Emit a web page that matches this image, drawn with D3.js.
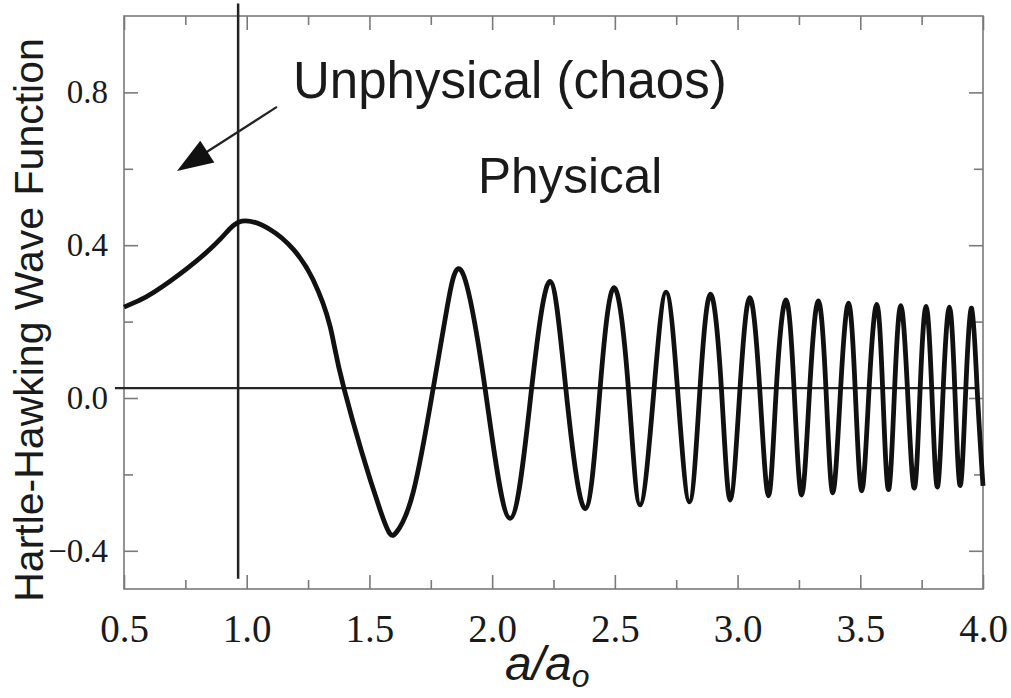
<!DOCTYPE html>
<html>
<head>
<meta charset="utf-8">
<script src="https://cdn.jsdelivr.net/npm/d3@7"></script>
<style>
  html, body { margin: 0; padding: 0; background: #fff; }
  svg { display: block; }
</style>
</head>
<body>
<div id="chart"></div>
<script>
// scale factor a/a0 (extrema, zero crossings and a few shoulder points)
const scaleFactor = [
  0.50, 0.56, 0.62, 0.755, 0.891, 0.98, 1.095, 1.19, 1.27, 1.34, 1.396,
  1.543, 1.608, 1.679, 1.76, 1.815, 1.876,
  1.971, 2.073, 2.161, 2.236, 2.30, 2.379, 2.44, 2.497, 2.555, 2.603,
  2.66, 2.709, 2.755, 2.804, 2.847, 2.89, 2.934, 2.97, 3.01, 3.05,
  3.09, 3.126, 3.158, 3.197, 3.23, 3.261, 3.294, 3.329, 3.36, 3.388,
  3.42, 3.452, 3.479, 3.506, 3.536, 3.567, 3.591, 3.615, 3.64, 3.665,
  3.692, 3.72, 3.744, 3.768, 3.791, 3.814, 3.838, 3.863, 3.885, 3.907,
  3.93, 3.954, 3.976, 4.0
];

// Hartle-Hawking wave function at those points
const waveFunction = [
  0.238, 0.255, 0.276, 0.338, 0.415, 0.463, 0.441, 0.389, 0.310, 0.187, 0.026,
  -0.292, -0.353, -0.245, 0.026, 0.231, 0.332,
  0.026, -0.315, 0.026, 0.305, 0.026, -0.290, 0.026, 0.289, 0.026, -0.280,
  0.026, 0.277, 0.026, -0.272, 0.026, 0.272, 0.026, -0.267, 0.026, 0.263,
  0.026, -0.256, 0.026, 0.257, 0.026, -0.254, 0.026, 0.254, 0.026, -0.248,
  0.026, 0.248, 0.026, -0.243, 0.026, 0.245, 0.026, -0.240, 0.026, 0.242,
  0.026, -0.236, 0.026, 0.240, 0.026, -0.233, 0.026, 0.238, 0.026, -0.229,
  0.026, 0.235, 0.026, -0.230
];

const xMajorTicks = [0.5, 1.0, 1.5, 2.0, 2.5, 3.0, 3.5, 4.0];
const xMinorTicks = [0.75, 1.25, 1.75, 2.25, 2.75, 3.25, 3.75];
const yMajorTicks = [0.8, 0.4, 0.0, -0.4];
const yMinorTicks = [0.6, 0.2, -0.2];

// reference lines: horizontal baseline and the boundary at a ~ a0
const baselineValue = 0.026;
const boundaryValue = 0.965;

const width = 1011;
const height = 698;
const margin = { top: 16, right: 28, bottom: 109, left: 124 };

const svg = d3.select("#chart")
  .append("svg")
  .attr("width", width)
  .attr("height", height);

const x = d3.scaleLinear()
  .domain([0.5, 4.0])
  .range([margin.left, width - margin.right]);

const y = d3.scaleLinear()
  .domain([-0.5, 1.0])
  .range([height - margin.bottom, margin.top]);

const frameColor = "#7a7a7a";
const serif = "'Liberation Serif', 'Times New Roman', serif";
const sans = "'Liberation Sans', Arial, Helvetica, sans-serif";

// axes with inward ticks, no domain paths (frame drawn separately)
function styleAxis(g) {
  g.select(".domain").remove();
  g.selectAll(".tick line").attr("stroke", frameColor).attr("stroke-width", 1.6);
}

const tickLabel = (d) => (d < 0 ? "\u2212" : "") + Math.abs(d).toFixed(1);

svg.append("g")
  .attr("transform", `translate(0,${y(-0.5)})`)
  .call(d3.axisBottom(x).tickValues(xMajorTicks).tickSizeInner(-14).tickSizeOuter(0)
    .tickPadding(25).tickFormat(tickLabel))
  .call(styleAxis)
  .call((g) => g.selectAll(".tick text")
    .attr("font-family", serif)
    .attr("font-size", 39)
    .attr("fill", "#1a1a1a"));

svg.append("g")
  .attr("transform", `translate(0,${y(-0.5)})`)
  .call(d3.axisBottom(x).tickValues(xMinorTicks).tickSizeInner(-9).tickSizeOuter(0).tickFormat(""))
  .call(styleAxis);

svg.append("g")
  .attr("transform", `translate(0,${y(1.0)})`)
  .call(d3.axisTop(x).tickValues(xMajorTicks).tickSizeInner(-14).tickSizeOuter(0).tickFormat(""))
  .call(styleAxis);

svg.append("g")
  .attr("transform", `translate(0,${y(1.0)})`)
  .call(d3.axisTop(x).tickValues(xMinorTicks).tickSizeInner(-9).tickSizeOuter(0).tickFormat(""))
  .call(styleAxis);

svg.append("g")
  .attr("transform", `translate(${x(0.5)},0)`)
  .call(d3.axisLeft(y).tickValues(yMajorTicks).tickSizeInner(-14).tickSizeOuter(0)
    .tickPadding(16).tickFormat(tickLabel))
  .call(styleAxis)
  .call((g) => g.selectAll(".tick text")
    .attr("font-family", serif)
    .attr("font-size", 33)
    .attr("fill", "#1a1a1a"));

svg.append("g")
  .attr("transform", `translate(${x(0.5)},0)`)
  .call(d3.axisLeft(y).tickValues(yMinorTicks).tickSizeInner(-9).tickSizeOuter(0).tickFormat(""))
  .call(styleAxis);

svg.append("g")
  .attr("transform", `translate(${x(4.0)},0)`)
  .call(d3.axisRight(y).tickValues(yMajorTicks).tickSizeInner(-14).tickSizeOuter(0).tickFormat(""))
  .call(styleAxis);

svg.append("g")
  .attr("transform", `translate(${x(4.0)},0)`)
  .call(d3.axisRight(y).tickValues(yMinorTicks).tickSizeInner(-9).tickSizeOuter(0).tickFormat(""))
  .call(styleAxis);

// plot frame
svg.append("rect")
  .attr("x", x(0.5))
  .attr("y", y(1.0))
  .attr("width", x(4.0) - x(0.5))
  .attr("height", y(-0.5) - y(1.0))
  .attr("fill", "none")
  .attr("stroke", frameColor)
  .attr("stroke-width", 1.6);

// horizontal baseline (runs a little past the left frame)
svg.append("line")
  .attr("x1", x(0.463))
  .attr("x2", x(3.976))
  .attr("y1", y(baselineValue))
  .attr("y2", y(baselineValue))
  .attr("stroke", "#262626")
  .attr("stroke-width", 2.2);

// vertical boundary line
svg.append("line")
  .attr("x1", x(boundaryValue))
  .attr("x2", x(boundaryValue))
  .attr("y1", y(1.033))
  .attr("y2", y(-0.473))
  .attr("stroke", "#222")
  .attr("stroke-width", 2.5);

// the wave function
const points = scaleFactor.map((a, i) => [a, waveFunction[i]]);

const line = d3.line()
  .x((d) => x(d[0]))
  .y((d) => y(d[1]))
  .curve(d3.curveNatural);

svg.append("path")
  .datum(points)
  .attr("d", line)
  .attr("fill", "none")
  .attr("stroke", "#111")
  .attr("stroke-width", 4.8)
  .attr("stroke-linejoin", "round");

// arrow pointing into the unphysical region
const arrowTip = [x(0.716), y(0.594)];
const arrowTail = [x(1.123), y(0.762)];
const ang = Math.atan2(arrowTip[1] - arrowTail[1], arrowTip[0] - arrowTail[0]);
const headLen = 36;
const headHalf = 13;
const base = [arrowTip[0] - headLen * Math.cos(ang), arrowTip[1] - headLen * Math.sin(ang)];

svg.append("line")
  .attr("x1", arrowTail[0])
  .attr("y1", arrowTail[1])
  .attr("x2", base[0] + 4 * Math.cos(ang))
  .attr("y2", base[1] + 4 * Math.sin(ang))
  .attr("stroke", "#222")
  .attr("stroke-width", 2.2);

svg.append("path")
  .attr("d", d3.line()([
    arrowTip,
    [base[0] + headHalf * Math.sin(ang), base[1] - headHalf * Math.cos(ang)],
    [base[0] - headHalf * Math.sin(ang), base[1] + headHalf * Math.cos(ang)]
  ]) + "Z")
  .attr("fill", "#111");

svg.append("text")
  .attr("x", 293)
  .attr("y", 98)
  .attr("font-family", sans)
  .attr("font-size", 51)
  .attr("fill", "#1a1a1a")
  .text("Unphysical (chaos)");

svg.append("text")
  .attr("x", 478)
  .attr("y", 193)
  .attr("font-family", sans)
  .attr("font-size", 49.5)
  .attr("fill", "#1a1a1a")
  .text("Physical");

// axis titles
svg.append("text")
  .attr("transform", "translate(43,320) rotate(-90)")
  .attr("text-anchor", "middle")
  .attr("font-family", sans)
  .attr("font-size", 41)
  .attr("fill", "#1a1a1a")
  .text("Hartle-Hawking Wave Function");

const xTitle = svg.append("text")
  .attr("x", 505)
  .attr("y", 680)
  .attr("font-family", sans)
  .attr("font-style", "italic")
  .attr("font-size", 48)
  .attr("fill", "#1a1a1a");

xTitle.append("tspan").text("a/a");
xTitle.append("tspan")
  .attr("font-size", 32)
  .attr("dy", 7)
  .text("o");
</script>
</body>
</html>
